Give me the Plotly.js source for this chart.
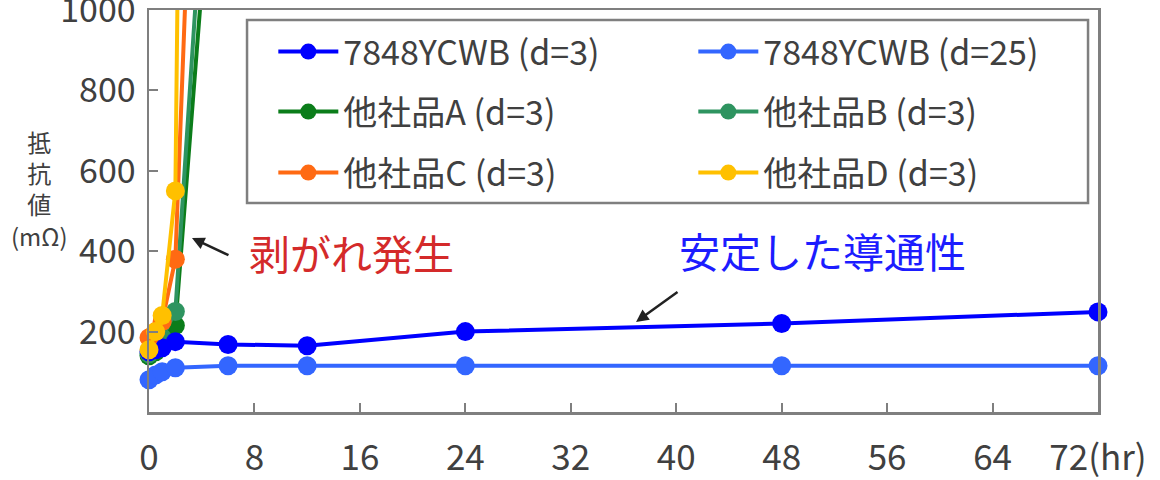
<!DOCTYPE html>
<html>
<head>
<meta charset="utf-8">
<script src="https://cdn.plot.ly/plotly-3.0.1.min.js"></script>
<style>
  html, body { margin: 0; padding: 0; background: #fff; }
  #chart { width: 1160px; height: 480px; }
</style>
</head>
<body>
<div id="chart"></div>
<script>
// --- DATA ---
const hoursOurs = [0, 0.5, 1, 2, 6, 12, 24, 48, 72];
const ycwbD3 = [150, 155, 160, 175, 168, 165, 200, 220, 249];
const ycwbD25 = [80, 92, 100, 110, 115, 115, 115, 115, 115];

const hoursOther = [0, 0.5, 1, 2, 6];
const otherA = [140, 150, 170, 215, 1900];
const otherB = [145, 160, 185, 250, 2250];
const otherC = [185, 200, 225, 380, 3800];
const otherD = [155, 200, 240, 550, 12500];

const xTickVals = [0, 8, 16, 24, 32, 40, 48, 56, 64, 72];
const xTickText = ['0', '8', '16', '24', '32', '40', '48', '56', '64', '72(hr)'];
const yTickVals = [200, 400, 600, 800, 1000];

const FONT = '"Noto Sans CJK JP", "Noto Sans", sans-serif';
const TXT = '#404040';
const AXIS = '#7f7f7f';

function series(x, y, name, color, legend, rank) {
	return {
		x: x, y: y, name: name,
		type: 'scatter', mode: 'lines+markers',
		line: { color: color, width: 4 },
		marker: { color: color, size: 19 },
		cliponaxis: false,
		legend: legend, legendrank: rank
	};
}

// draw order: greens under blues, orange/yellow on top
const traces = [
	series(hoursOther, otherA, '他社品A (d=3)', '#0b7d1a', 'legend2', 3),
	series(hoursOther, otherB, '他社品B (d=3)', '#2e9460', 'legend2', 4),
	series(hoursOurs, ycwbD25, '7848YCWB (d=25)', '#3366ff', 'legend', 2),
	series(hoursOurs, ycwbD3, '7848YCWB (d=3)', '#0000ff', 'legend', 1),
	series(hoursOther, otherC, '他社品C (d=3)', '#ff6a13', 'legend3', 5),
	series(hoursOther, otherD, '他社品D (d=3)', '#ffc000', 'legend3', 6)
];

function legendRow(y) {
	return {
		x: 0.131, y: y, xanchor: 'left', yanchor: 'middle',
		orientation: 'h', entrywidth: 345, entrywidthmode: 'pixels',
		itemwidth: 60, bgcolor: 'rgba(0,0,0,0)', borderwidth: 0,
		font: { family: FONT, size: 34, color: TXT }
	};
}

const annotations = [
	// stacked y-axis title
	{ xref: 'paper', yref: 'paper', x: -0.115, y: (412 - 188) / 402,
	  text: '抵<br>抗<br>値<br>(mΩ)', align: 'center', showarrow: false,
	  xanchor: 'center', yanchor: 'middle',
	  font: { family: FONT, size: 24, color: TXT } },
	{ x: 15.4, y: 398, text: '剥がれ発生', showarrow: false,
	  font: { family: FONT, size: 41, color: '#d42a2a' } },
	{ x: 51.1, y: 403, text: '安定した導通性', showarrow: false,
	  font: { family: FONT, size: 41, color: '#1c1cff' } },
	{ x: 3.26, y: 433, ax: 38, ay: 18, text: '', showarrow: true,
	  arrowhead: 2, arrowsize: 1, arrowwidth: 2.5, arrowcolor: '#222' },
	{ x: 36.95, y: 224, ax: 43, ay: -31, text: '', showarrow: true,
	  arrowhead: 2, arrowsize: 1, arrowwidth: 2.5, arrowcolor: '#222' }
];

const layout = {
	width: 1160, height: 480,
	margin: { l: 149, r: 62, t: 10, b: 68 },
	paper_bgcolor: '#fff', plot_bgcolor: '#fff',
	font: { family: FONT, color: TXT },
	xaxis: {
		range: [0, 72], tickvals: xTickVals, ticktext: xTickText,
		showgrid: false, zeroline: false,
		showline: true, linecolor: AXIS, linewidth: 2.5, mirror: true,
		ticks: 'inside', ticklen: 9, tickwidth: 2, tickcolor: AXIS,
		ticklabelstandoff: 13, ticklabeloverflow: 'allow',
		tickfont: { family: FONT, size: 35, color: TXT }
	},
	yaxis: {
		range: [0, 1000], tickvals: yTickVals,
		showgrid: false, zeroline: false,
		showline: true, linecolor: AXIS, linewidth: 2.5, mirror: true,
		ticks: 'inside', ticklen: 9, tickwidth: 2, tickcolor: AXIS,
		ticklabelstandoff: 4, ticklabeloverflow: 'allow',
		tickfont: { family: FONT, size: 34, color: TXT }
	},
	legend: legendRow((412 - 52) / 402),
	legend2: legendRow((412 - 112) / 402),
	legend3: legendRow((412 - 173) / 402),
	shapes: [{
		type: 'rect', xref: 'paper', yref: 'paper',
		x0: 0.1033, x1: 0.9895, y0: 0.52, y1: 0.975,
		line: { color: AXIS, width: 2.5 }, fillcolor: 'rgba(0,0,0,0)'
	}],
	annotations: annotations
};

Plotly.newPlot('chart', traces, layout, { displayModeBar: false, staticPlot: true });
</script>
</body>
</html>
